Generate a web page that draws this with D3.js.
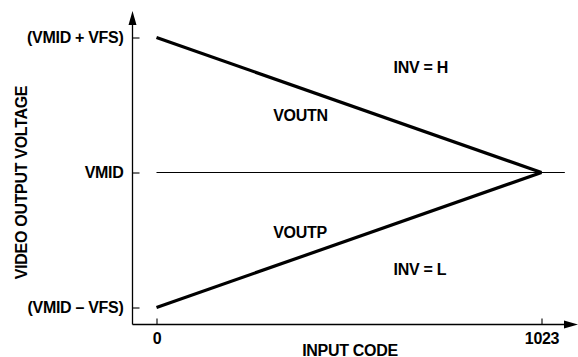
<!DOCTYPE html>
<html>
<head>
<meta charset="utf-8">
<script src="https://cdn.jsdelivr.net/npm/d3@7"></script>
<style>
  body { margin: 0; background: #fff; }
  text { font-family: "Liberation Sans", Arial, Helvetica, sans-serif; font-weight: bold; fill: #000; letter-spacing: -0.3px; }
</style>
</head>
<body>
<div id="chart"></div>
<script>
var width = 578,
  height = 357;

// data
var codes = [0, 1023];
var voutn = [1, 0];
var voutp = [-1, 0];
var vmidLine = [0, 1085];
var yTicks = [-1, 0, 1];
var yTickLabels = ["(VMID \u2013 VFS)", "VMID", "(VMID + VFS)"];
var xTicks = [0, 1023];
var notes = ["VOUTN", "VOUTP", "INV = H", "INV = L"];
var noteCode = [310, 310, 630, 630];
var noteValue = [0.385, -0.487, 0.736, -0.758];

var originX = 132.5,
  originY = 324.5;

var x = d3.scaleLinear().domain([0, 1023]).range([156.5, 541.5]);
var y = d3.scaleLinear().domain([-1, 1]).range([307.5, 37.5]);

var svg = d3.select("#chart").append("svg")
  .attr("width", width)
  .attr("height", height);

// axis lines with arrow heads
svg.append("line")
  .attr("x1", originX).attr("y1", originY)
  .attr("x2", originX).attr("y2", 24)
  .attr("stroke", "#000").attr("stroke-width", 1.3);
svg.append("path")
  .attr("d", "M" + originX + ",11L" + (originX - 4) + ",25L" + (originX + 4) + ",25Z")
  .attr("fill", "#000");

svg.append("line")
  .attr("x1", originX).attr("y1", originY)
  .attr("x2", 565).attr("y2", originY)
  .attr("stroke", "#000").attr("stroke-width", 1.3);
svg.append("path")
  .attr("d", "M578," + originY + "L564," + (originY - 4) + "L564," + (originY + 4) + "Z")
  .attr("fill", "#000");

// y axis ticks
var yAxis = d3.axisLeft(y)
  .tickValues(yTicks)
  .tickFormat(function (d, i) { return yTickLabels[i]; })
  .tickSizeInner(-7)
  .tickSizeOuter(0)
  .tickPadding(9);

var gy = svg.append("g")
  .attr("transform", "translate(" + originX + ",0)")
  .call(yAxis);
gy.select(".domain").remove();
gy.selectAll("line").attr("stroke", "#000").attr("stroke-width", 1.1);
gy.selectAll("text")
  .attr("font-size", 16)
  .attr("font-family", "Liberation Sans, Arial, sans-serif")
  .attr("font-weight", "bold")
  .attr("fill", "#000");

// x axis ticks
var xAxis = d3.axisBottom(x)
  .tickValues(xTicks)
  .tickFormat(d3.format("d"))
  .tickSizeInner(-6)
  .tickSizeOuter(0)
  .tickPadding(8);

var gx = svg.append("g")
  .attr("transform", "translate(0," + originY + ")")
  .call(xAxis);
gx.select(".domain").remove();
gx.selectAll("line").attr("stroke", "#000").attr("stroke-width", 1.1);
gx.selectAll("text")
  .attr("font-size", 16)
  .attr("font-family", "Liberation Sans, Arial, sans-serif")
  .attr("font-weight", "bold")
  .attr("fill", "#000");

// VMID reference line
svg.append("line")
  .attr("x1", x(vmidLine[0])).attr("y1", y(0))
  .attr("x2", x(vmidLine[1])).attr("y2", y(0))
  .attr("stroke", "#000").attr("stroke-width", 1.1);

var line = d3.line()
  .x(function (d) { return x(d[0]); })
  .y(function (d) { return y(d[1]); });

[voutn, voutp].forEach(function (s) {
  svg.append("path")
    .datum(codes.map(function (c, i) { return [c, s[i]]; }))
    .attr("d", line)
    .attr("fill", "none")
    .attr("stroke", "#000")
    .attr("stroke-width", 3.2)
    .attr("stroke-linejoin", "miter");
});

// labels
svg.selectAll(".note")
  .data(notes)
  .enter().append("text")
  .attr("class", "note")
  .attr("x", function (d, i) { return x(noteCode[i]); })
  .attr("y", function (d, i) { return y(noteValue[i]); })
  .attr("font-size", 16)
  .text(function (d) { return d; });

svg.append("text")
  .attr("x", 350)
  .attr("y", 355.5)
  .attr("text-anchor", "middle")
  .attr("font-size", 16)
  .text("INPUT CODE");

svg.append("text")
  .attr("transform", "translate(26.5,182.5)rotate(-90)")
  .attr("text-anchor", "middle")
  .attr("font-size", 16)
  .text("VIDEO OUTPUT VOLTAGE");
</script>
</body>
</html>
